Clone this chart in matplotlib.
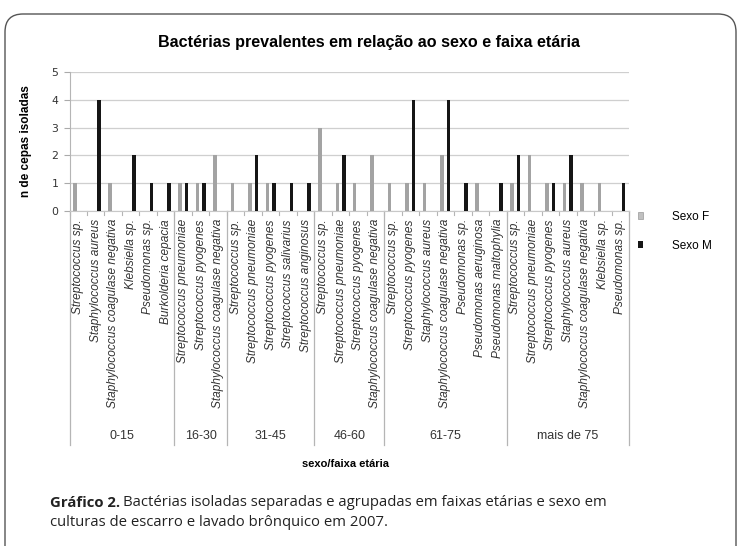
import matplotlib
matplotlib.use("Agg")
import matplotlib.pyplot as plt
import matplotlib.transforms as mtransforms
from matplotlib.patches import FancyBboxPatch, Patch
from matplotlib.lines import Line2D
import numpy as np

# faixas etárias e bactérias isoladas em cada uma
faixas = ["0-15", "16-30", "31-45", "46-60", "61-75", "mais de 75"]
bacterias = [
    ["Streptococcus sp.", "Staphylococcus aureus", "Staphylococcus coagulase negativa",
     "Klebsiella sp.", "Pseudomonas sp.", "Burkolderia cepacia"],
    ["Streptococcus pneumoniae", "Streptococcus pyogenes", "Staphylococcus coagulase negativa"],
    ["Streptococcus sp.", "Streptococcus pneumoniae", "Streptococcus pyogenes",
     "Streptococcus salivarius", "Streptococcus anginosus"],
    ["Streptococcus sp.", "Streptococcus pneumoniae", "Streptococcus pyogenes",
     "Staphylococcus coagulase negativa"],
    ["Streptococcus sp.", "Streptococcus pyogenes", "Staphylococcus aureus",
     "Staphylococcus coagulase negativa", "Pseudomonas sp.", "Pseudomonas aeruginosa",
     "Pseudomonas maltophylia"],
    ["Streptococcus sp.", "Streptococcus pneumoniae", "Streptococcus pyogenes",
     "Staphylococcus aureus", "Staphylococcus coagulase negativa", "Klebsiella sp.",
     "Pseudomonas sp."],
]
# número de cepas por sexo (mesma ordem das bactérias acima)
sexo_f = [1, 0, 1, 0, 0, 0,
          1, 1, 2,
          1, 1, 1, 0, 0,
          3, 1, 1, 2,
          1, 1, 1, 2, 0, 1, 0,
          1, 2, 1, 1, 1, 1, 0]
sexo_m = [0, 4, 0, 2, 1, 1,
          1, 1, 0,
          0, 2, 1, 1, 1,
          0, 2, 0, 0,
          0, 4, 0, 4, 1, 0, 1,
          2, 0, 1, 2, 0, 0, 1]

W, H = 739, 546
fig = plt.figure(figsize=(W / 100, H / 100), dpi=100)
fig.patch.set_facecolor("white")

def px(x0, y0, x1, y1):
    # caixa em pixels (origem no canto superior esquerdo) -> fração da figura
    return [x0 / W, 1 - y1 / H, (x1 - x0) / W, (y1 - y0) / H]

ax = fig.add_axes(px(69.5, 72, 629, 211))

n = len(sexo_f)
x = np.arange(n)
cinza = "#a3a3a3"
preto = "#161616"
ax.bar(x - 0.186, sexo_f, width=0.2, color=cinza, zorder=3)
ax.bar(x + 0.186, sexo_m, width=0.2, color=preto, zorder=3)

ax.set_xlim(-0.5, n - 0.5)
ax.set_ylim(0, 5)
ax.set_yticks(range(6))
ax.tick_params(axis="y", labelsize=7.8, length=4, color="#aaaaaa", pad=4, labelcolor="#333333")
ax.set_xticks([])
for s in ["top", "right"]:
    ax.spines[s].set_visible(False)
ax.spines["left"].set_color("#b5b5b5")
ax.spines["bottom"].set_color("#c8c8c8")
ax.yaxis.grid(True, color="#cfcfcf", lw=0.9, zorder=0)
ax.set_axisbelow(True)
ax.set_ylabel("n de cepas isoladas", fontsize=8.5, fontweight="bold", labelpad=14,
              family="Liberation Sans")

trans = mtransforms.blended_transform_factory(ax.transData, ax.transAxes)
unid = 1 / 139.0  # um pixel em coordenadas do eixo

# rótulos das bactérias
nomes = [b for grupo in bacterias for b in grupo]
for i, nome in enumerate(nomes):
    ax.text(i, -8 * unid, nome, transform=trans, rotation=90, ha="center", va="top",
            fontsize=8.6, style="italic", color="#333333", family="Liberation Sans")

# marcas entre categorias
for b in np.arange(-0.5, n, 1.0):
    ax.add_line(Line2D([b, b], [0, -4 * unid], transform=trans, color="#b5b5b5",
                       lw=0.8, clip_on=False))

# divisões e rótulos das faixas etárias
bordas = [-0.5]
for grupo in bacterias:
    bordas.append(bordas[-1] + len(grupo))
for b in bordas:
    ax.add_line(Line2D([b, b], [0, -234 * unid], transform=trans, color="#b5b5b5",
                       lw=0.9, clip_on=False))
for k, faixa in enumerate(faixas):
    meio = (bordas[k] + bordas[k + 1]) / 2
    ax.text(meio, -225 * unid, faixa, transform=trans, ha="center", va="center",
            fontsize=9, color="#333333", family="Liberation Sans")

fig.text(346 / W, 1 - 464 / H, "sexo/faixa etária", ha="center", va="center",
         fontsize=8, fontweight="bold", family="Liberation Sans")

fig.text(369 / W, 1 - 42 / H, "Bactérias prevalentes em relação ao sexo e faixa etária",
         ha="center", va="center", fontsize=11.6, fontweight="bold", family="Liberation Sans")

# legenda
handles = [Patch(facecolor="#c0c0c0", edgecolor="#999999", lw=0.5, label="Sexo F"),
           Patch(facecolor=preto, label="Sexo M")]
fig.legend(handles=handles, loc="upper left", bbox_to_anchor=(627 / W, 1 - 200 / H),
           frameon=False, handlelength=0.45, handleheight=0.45,
           handletextpad=2.5, labelspacing=1.45,
           prop={"family": "Liberation Sans", "size": 8.5})

# moldura arredondada
moldura = FancyBboxPatch((5, -30), 731, H - 14 + 30, boxstyle="round,pad=0,rounding_size=18",
                         transform=None, facecolor="none", edgecolor="#555555", lw=1.0)
fig.patches.append(moldura)

# legenda da figura
renderer = fig.canvas.get_renderer()
t1 = fig.text(50 / W, 1 - 503 / H, "Gráfico 2.", fontsize=10.7, fontweight="bold",
              family="Open Sans", va="center", color="#222222")
bb = t1.get_window_extent(renderer)
fig.text(bb.x1 / W + 3 / W, 1 - 503 / H,
         "Bactérias isoladas separadas e agrupadas em faixas etárias e sexo em",
         fontsize=10.7, family="Open Sans", va="center", color="#222222")
fig.text(50 / W, 1 - 523 / H, "culturas de escarro e lavado brônquico em 2007.",
         fontsize=10.7, family="Open Sans", va="center", color="#222222")

fig.savefig("out.png", dpi=100)
